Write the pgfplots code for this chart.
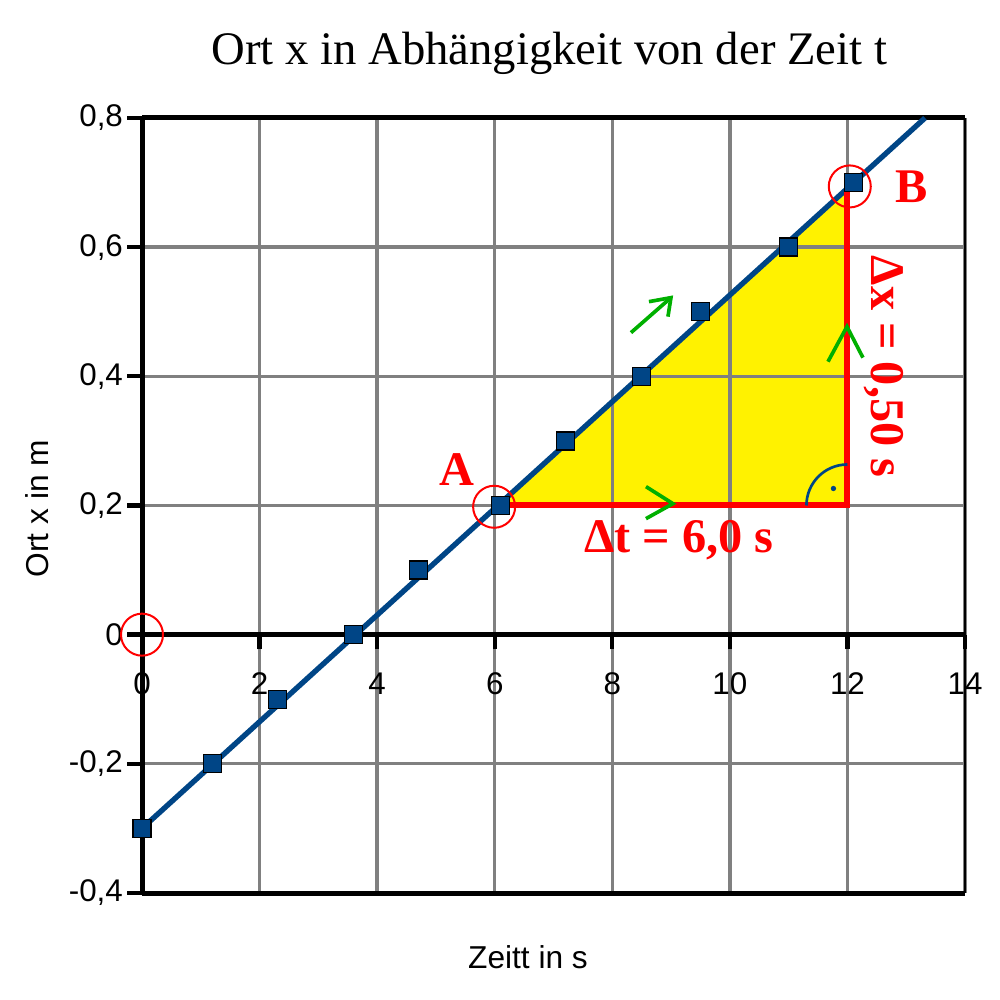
\documentclass[border=0pt]{standalone}
\usepackage{pgfplots}
\pgfplotsset{compat=1.18}
\usepackage{fontspec}
\setmainfont{Liberation Sans}
\newfontfamily\serif{Liberation Serif}
\definecolor{navy}{HTML}{004586}
\definecolor{grn}{HTML}{00B000}
\definecolor{gridgray}{HTML}{808080}
\begin{document}
\begin{tikzpicture}
\begin{axis}[
  set layers,
  at={(0pt,0pt)}, anchor=south west,
  scale only axis, width=246.9pt, height=232.5pt,
  xmin=0, xmax=14, ymin=-0.4, ymax=0.8,
  axis x line=middle, axis y line=left,
  axis line style={-, line width=1.5pt, black},
  hide obscured x ticks=false, hide obscured y ticks=false,
  xtick={0,2,4,6,8,10,12,14},
  xticklabels={0,2,4,6,8,10,12,14},
  ytick={-0.4,-0.2,0,0.2,0.4,0.6,0.8},
  yticklabels={{-0,4},{-0,2},{0},{0,2},{0,4},{0,6},{0,8}},
  tick align=outside,
  major tick length=4.4pt,
  tick style={black, line width=1.3pt},
  ticklabel style={font=\fontsize{9.4}{11}\selectfont},
  xticklabel style={yshift=-3.5pt},
  yticklabel style={xshift=2.2pt},
  grid=major,
  grid style={gridgray, line width=1pt},
  clip=false,
  title={Ort x in Abhängigkeit von der Zeit t},
  title style={at={(axis description cs:0.495,1.0426)}, anchor=base, font=\serif\fontsize{14}{16}\selectfont},
  xlabel={Zeitt in s},
  xlabel style={at={(axis description cs:0.469,-0.0968)}, anchor=base, font=\fontsize{9.5}{11}\selectfont},
  ylabel={Ort x in m},
  ylabel style={at={(axis description cs:-0.113,0.496)}, anchor=base, rotate=0, font=\fontsize{9.5}{11}\selectfont},
]
% frame
\draw[black, line width=1.5pt] (rel axis cs:0,0) -- (rel axis cs:1,0);
\draw[black, line width=1.5pt] (rel axis cs:0,1) -- (rel axis cs:1,1);
\draw[black, line width=0.5pt] (rel axis cs:1,0) -- (rel axis cs:1,1);
% yellow triangle
\addplot[fill=yellow, draw=none, on layer=axis background] coordinates {(6,0.2) (12,0.2) (12,0.692)} -- cycle;
% trend line
\addplot[navy, line width=1.6pt] coordinates {(0,-0.3) (13.32,0.8)};
% data points
\addplot[only marks, mark=square*, mark size=2.7pt, mark options={fill=navy, draw=black, line width=0.4pt}] coordinates {
(0,-0.3) (1.2,-0.2) (2.3,-0.1) (3.6,0) (4.7,0.1) (6.1,0.2) (7.2,0.3) (8.5,0.4) (9.5,0.5) (11,0.6) (12.1,0.7)};
% red triangle legs
\addplot[red, line width=1.8pt] coordinates {(6,0.2) (12,0.2) (12,0.695)};
% right angle
\draw[navy, line width=0.8pt] (axis cs:12,0.2) ++(180:12.3pt) arc[start angle=180, end angle=90, radius=12.3pt];
\fill[navy] (axis cs:12,0.2) ++(-4.2pt,5.1pt) circle (0.8pt);
% circles
\addplot[only marks, mark=o, mark size=6.3pt, red, mark options={line width=0.6pt}] coordinates {(0,0) (5.99,0.198) (12.04,0.694)};
% green arrows
\addplot[grn, line width=1.1pt] coordinates {(8.318,0.4676) (8.998,0.5218)};
\addplot[grn, line width=1.1pt] coordinates {(8.624,0.5156) (8.998,0.5218) (8.947,0.4924)};
\addplot[grn, line width=1.1pt] coordinates {(8.573,0.2292) (9.032,0.2028) (8.573,0.1796)};
\addplot[grn, line width=1.1pt] coordinates {(11.669,0.4227) (11.992,0.4769) (12.264,0.4289)};
% labels
\node[red, font=\serif\bfseries\fontsize{14.5}{16}\selectfont] at (axis cs:5.36,0.255) {A};
\node[red, font=\serif\bfseries\fontsize{14.5}{16}\selectfont] at (axis cs:13.1,0.694) {B};
\node[red, font=\serif\bfseries\fontsize{14.5}{16}\selectfont] at (axis cs:9.13,0.147) {Δt = 6,0 s};
\node[red, rotate=-90, font=\serif\bfseries\fontsize{14.5}{16}\selectfont] at (axis cs:12.62,0.415) {Δx = 0,50 s};
\end{axis}
\pgfresetboundingbox
\path[use as bounding box] (-42.6pt,-32.1pt) rectangle (257.4pt,267.9pt);
\end{tikzpicture}
\end{document}
